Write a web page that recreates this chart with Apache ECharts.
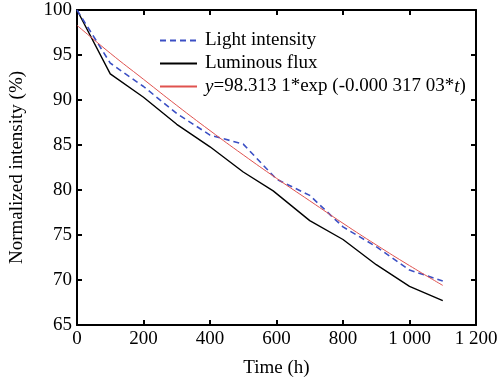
<!DOCTYPE html>
<html>
<head>
<meta charset="utf-8">
<script src="https://cdn.jsdelivr.net/npm/echarts@6/dist/echarts.min.js"></script>
<style>html,body{margin:0;padding:0;background:#fff}#c{width:501px;height:383px}</style>
</head>
<body>
<div id="c"></div>
<script>
const times = [0, 100, 200, 300, 400, 500, 600, 700, 800, 900, 1000, 1100];
const lightIntensity = [100, 94.1, 91.5, 88.5, 86.1, 85.1, 81.2, 79.4, 75.9, 73.7, 71.1, 69.9];
const fluxTimes = [0, 100, 200, 300, 400, 500, 590, 700, 800, 900, 1000, 1100];
const luminousFlux = [100, 92.9, 90.3, 87.3, 84.8, 82.0, 79.9, 76.6, 74.5, 71.7, 69.3, 67.7];
const fitValues = [98.3, 95.2, 92.3, 89.4, 86.6, 83.9, 81.3, 78.8, 76.3, 73.9, 71.6, 69.4];
const seriesNames = ['Light intensity', 'Luminous flux', 'fit'];
const fitLabel = '{i|y}=98.313 1*exp (-0.000 317 03*{i|t})';

const font = 'Liberation Serif';
const zip = (xs, ys) => xs.map((x, i) => [x, ys[i]]);
const fmtX = v => {
  const s = String(v);
  return s.length > 3 ? s.slice(0, s.length - 3) + ' ' + s.slice(-3) : s;
};
const axisCommonX = {
  type: 'value', min: 0, max: 1200, interval: 200,
  axisLine: { show: true, onZero: false, lineStyle: { color: '#000', width: 2 } },
  axisTick: { show: true, inside: true, length: 5, lineStyle: { color: '#000', width: 2 } },
  splitLine: { show: false }
};
const axisCommonY = {
  type: 'value', min: 65, max: 100, interval: 5,
  axisLine: { show: true, onZero: false, lineStyle: { color: '#000', width: 2 } },
  axisTick: { show: true, inside: true, length: 5, lineStyle: { color: '#000', width: 2 } },
  splitLine: { show: false }
};
const chart = echarts.init(document.getElementById('c'), null, { renderer: 'canvas' });
chart.setOption({
  animation: false,
  backgroundColor: '#fff',
  grid: { left: 74, right: 25, top: 10, bottom: 56 },
  legend: {
    orient: 'vertical', left: 154, top: 26, itemGap: 4,
    itemWidth: 37, itemHeight: 14,
    data: seriesNames,
    itemStyle: { opacity: 0, borderWidth: 0 },
    formatter: n => n === 'fit' ? fitLabel : n,
    textStyle: {
      fontFamily: font, fontSize: 19, color: '#000', padding: [0, 0, 0, 3],
      rich: { i: { fontFamily: font, fontSize: 19, fontStyle: 'italic', color: '#000' } }
    }
  },
  xAxis: [
    Object.assign({}, axisCommonX, {
      position: 'bottom',
      name: 'Time (h)', nameLocation: 'middle', nameGap: 34,
      nameTextStyle: { fontFamily: font, fontSize: 19, color: '#000' },
      axisLabel: { fontFamily: font, fontSize: 19, color: '#000', margin: 5, formatter: fmtX }
    }),
    Object.assign({}, axisCommonX, { position: 'top', axisLabel: { show: false } })
  ],
  yAxis: [
    Object.assign({}, axisCommonY, {
      position: 'left',
      name: 'Normalized intensity (%)', nameLocation: 'middle', nameGap: 50,
      nameTextStyle: { fontFamily: font, fontSize: 19, color: '#000' },
      axisLabel: { fontFamily: font, fontSize: 19, color: '#000', margin: 5 }
    }),
    Object.assign({}, axisCommonY, { position: 'right', axisLabel: { show: false } })
  ],
  series: [
    {
      name: seriesNames[0], type: 'line', symbol: 'none', data: zip(times, lightIntensity),
      lineStyle: { color: '#3b4fc4', width: 1.6, type: [6, 4] }, itemStyle: { color: '#3b4fc4' }, z: 3
    },
    {
      name: seriesNames[1], type: 'line', symbol: 'none', data: zip(fluxTimes, luminousFlux),
      lineStyle: { color: '#000', width: 1.4 }, itemStyle: { color: '#000' }, z: 2
    },
    {
      name: seriesNames[2], type: 'line', symbol: 'none', smooth: true, data: zip(times, fitValues),
      lineStyle: { color: '#e0524f', width: 1 }, itemStyle: { color: '#e0524f' }, z: 4
    }
  ]
});
</script>
</body>
</html>
